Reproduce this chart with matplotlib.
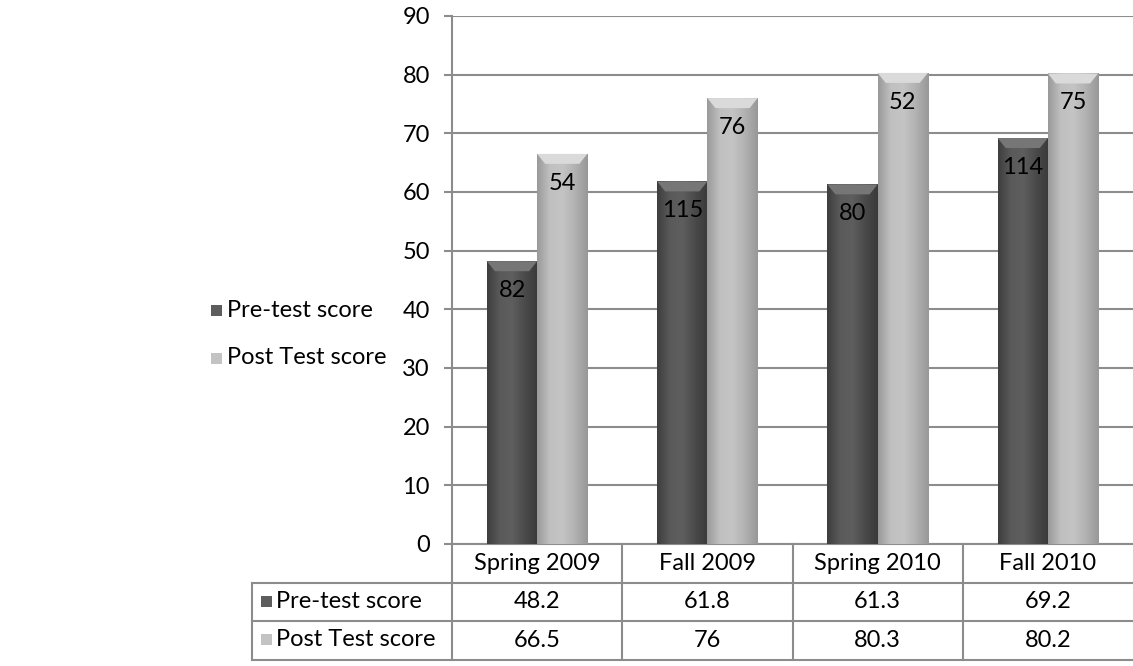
import numpy as np
import matplotlib.pyplot as plt
from matplotlib.patches import Rectangle, Polygon
from matplotlib.colors import LinearSegmentedColormap

plt.rcParams['font.family'] = ['Lato', 'DejaVu Sans']

# data
terms = ['Spring 2009', 'Fall 2009', 'Spring 2010', 'Fall 2010']
pre_scores = [48.2, 61.8, 61.3, 69.2]
post_scores = [66.5, 76, 80.3, 80.2]
pre_counts = [82, 115, 80, 114]
post_counts = [54, 76, 52, 75]
series_names = ['Pre-test score', 'Post Test score']

W, H = 1133, 666
FS = 17
GRID = '#8c8c8c'
BAR_W = 0.295

fig = plt.figure(figsize=(W / 100, H / 100), dpi=100)
ax = fig.add_axes([452 / W, 1 - 544 / H, 681 / W, 528 / H])

pre_cmap = LinearSegmentedColormap.from_list('pre', ['#3e3e3e', '#5a5a5a', '#5e5e5e', '#4a4a4a', '#3a3a3a'])
post_cmap = LinearSegmentedColormap.from_list('post', ['#9a9a9a', '#c0c0c0', '#c4c4c4', '#b2b2b2', '#989898'])


def fancy_bars(xs, vals, cmap, bevel_col):
    bars = ax.bar(xs, vals, width=BAR_W, color=cmap(0.5), zorder=3, linewidth=0)
    grad = np.linspace(0, 1, 64).reshape(1, -1)
    for b in bars:
        x0, w, h = b.get_x(), b.get_width(), b.get_height()
        im = ax.imshow(grad, cmap=cmap, extent=[x0, x0 + w, 0, h], aspect='auto', zorder=3.1)
        im.set_clip_path(b)
        # bevel on top of the bar
        dx, dy = w * 0.16, 1.7
        ax.add_patch(Polygon([[x0, h], [x0 + w, h], [x0 + w - dx, h - dy], [x0 + dx, h - dy]],
                             closed=True, facecolor=bevel_col, edgecolor='none', zorder=3.2))
    return bars


xs = np.arange(len(terms)) + 0.5
pre_bars = fancy_bars(xs - BAR_W / 2, pre_scores, pre_cmap, '#767676')
post_bars = fancy_bars(xs + BAR_W / 2, post_scores, post_cmap, '#dadada')

for bars, counts in [(pre_bars, pre_counts), (post_bars, post_counts)]:
    for b, c in zip(bars, counts):
        ax.annotate(str(c), (b.get_x() + b.get_width() / 2, b.get_height()),
                    xytext=(0, -21), textcoords='offset points',
                    ha='center', va='center', fontsize=FS, color='black', zorder=5)

ax.set_xlim(0, 4)
ax.set_ylim(0, 90)
ax.set_yticks(range(0, 91, 10))
ax.set_xticks([])
ax.grid(axis='y', color=GRID, linewidth=1.5, zorder=0)
for s in ['top', 'right']:
    ax.spines[s].set_visible(False)
ax.spines['left'].set_color(GRID)
ax.spines['left'].set_linewidth(1.5)
ax.spines['bottom'].set_color(GRID)
ax.spines['bottom'].set_linewidth(1.5)
ax.tick_params(axis='y', length=6, width=1.5, color=GRID, labelsize=FS, pad=10)

# data table below the axes (axes coords)
row_h = 38.5 / 528
left = (252 - 452) / 681
lk = dict(color=GRID, linewidth=1.5, transform=ax.transAxes, clip_on=False)
for i in range(1, 4):
    ax.plot([left, 1], [-row_h * i, -row_h * i], **lk)
ax.plot([left, left], [-row_h, -row_h * 3], **lk)
for i in range(len(terms)):
    ax.plot([i / 4, i / 4], [0, -row_h * 3], **lk)

for i, t in enumerate(terms):
    cx = (i + 0.5) / 4
    ax.text(cx, -row_h * 0.5, t, transform=ax.transAxes, ha='center', va='center', fontsize=FS)
    ax.text(cx, -row_h * 1.5, f'{pre_scores[i]:g}', transform=ax.transAxes, ha='center', va='center', fontsize=FS)
    ax.text(cx, -row_h * 2.5, f'{post_scores[i]:g}', transform=ax.transAxes, ha='center', va='center', fontsize=FS)

sw = 11
colors = [pre_cmap(0.45), post_cmap(0.45)]
for r, (name, col) in enumerate(zip(series_names, colors)):
    yc = 1 - (601 + 38.5 * r) / H
    fig.add_artist(Rectangle((261 / W, yc - sw / 2 / H), sw / W, sw / H, transform=fig.transFigure,
                             facecolor=col, edgecolor='none'))
    fig.text(276 / W, yc, name, ha='left', va='center', fontsize=FS)

# legend on the left
for r, (name, col) in enumerate(zip(series_names, colors)):
    yc = 1 - (310 + 48 * r) / H
    fig.add_artist(Rectangle((211 / W, yc - sw / 2 / H), sw / W, sw / H, transform=fig.transFigure,
                             facecolor=col, edgecolor='none'))
    fig.text(227 / W, yc, name, ha='left', va='center', fontsize=FS)

fig.savefig('out.png', dpi=100)
